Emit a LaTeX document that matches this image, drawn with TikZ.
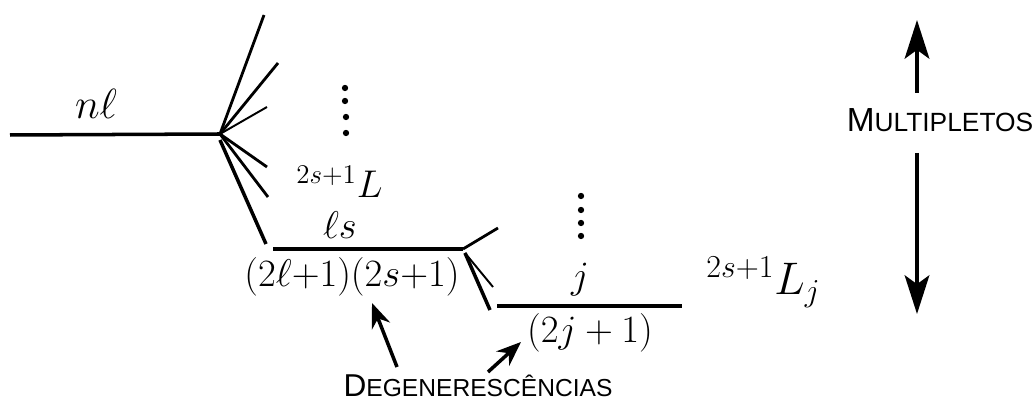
\RequirePackage{fix-cm}
\documentclass[tikz,border=0pt]{standalone}
\usepackage{fontspec}
\newfontfamily\handfont{Liberation Sans}
\usetikzlibrary{arrows.meta}
\newcommand\fsz[1]{\fontsize{#1}{#1}\selectfont}
\begin{document}
\begin{tikzpicture}[x=0.02cm,y=-0.02cm,
  lvl/.style={line width=2pt},
  split/.style={line width=1.6pt},
  thin split/.style={line width=1.1pt},
  lbl/.style={inner sep=0pt,font=\fsz{22}},
  captext/.style={inner sep=0pt,font=\handfont\fsz{14}},
  dotmark/.style={circle,fill=black,inner sep=0pt,minimum size=3.6pt},
  pointer/.style={line width=2pt,-{Stealth[length=14pt,width=11pt]}},
  bigarrow/.style={line width=2.2pt,-{Stealth[length=22pt,width=14pt,inset=5pt]}}]
\useasboundingbox (0,0) rectangle (1034,404);

% nl level
\coordinate (nlL) at (10,135);
\coordinate (nlR) at (220,134);
\draw[lvl] (nlL) -- (nlR);
\node[lbl,font=\fsz{24}] (nl) at (96,104) {$n\ell$};

% first fan
\coordinate (f1) at (264,15);
\coordinate (f2) at (278,63);
\coordinate (f3) at (267,107);
\coordinate (f4) at (267,167);
\coordinate (f5) at (268,197);
\coordinate (f6) at (266,244);
\coordinate (nlR2) at (220,140);
\draw[split] (nlR) -- (f1);
\draw[split] (nlR) -- (f2);
\draw[thin split] (nlR) -- (f3);
\draw[split] (nlR) -- (f4);
\draw[split] (nlR) -- (f5);
\draw[lvl] (nlR2) -- (f6);

\node[dotmark] (d1) at (345,88) {};
\node[dotmark] (d2) at (345,101) {};
\node[dotmark] (d3) at (346,117) {};
\node[dotmark] (d4) at (346,133) {};

\node[lbl,anchor=south west] (term1) at (296,198) {$^{2s{+}1}L$};

% ls level
\coordinate (lsL) at (273,249);
\coordinate (lsR) at (463,249);
\draw[lvl] (lsL) -- (lsR);
\node[lbl] (ls) at (340,225) {$\ell s$};
\node[lbl] (deg1) at (352,277) {$(2\ell{+}1)(2s{+}1)$};

% second fan
\coordinate (g1) at (498,228);
\coordinate (g2) at (493,287);
\coordinate (g3) at (490,310);
\coordinate (lsR2) at (465,253);
\draw[split] (lsR) -- (g1);
\draw[thin split] (lsR2) -- (g2);
\draw[lvl] (lsR2) -- (g3);

\node[dotmark] (e1) at (581,196) {};
\node[dotmark] (e2) at (581,210) {};
\node[dotmark] (e3) at (581,223) {};
\node[dotmark] (e4) at (581,236) {};

% j level
\coordinate (jL) at (497,306);
\coordinate (jR) at (682,306);
\draw[lvl] (jL) -- (jR);
\node[lbl] (j) at (580,280) {$j$};
\node[lbl] (deg2) at (590,333) {$(2j+1)$};

\node[lbl,font=\fsz{26},anchor=south west] (term2) at (706,308) {$^{2s{+}1}L_j$};

% multipletos
\node[captext,font=\handfont\fsz{15}] (mult) at (940,120) {{\fsz{19}M}ULTIPLETOS};
\coordinate (mupA) at (917,93);
\coordinate (mupB) at (917,20);
\coordinate (mdnA) at (917,153);
\coordinate (mdnB) at (917,314);
\draw[bigarrow] (mupA) -- (mupB);
\draw[bigarrow] (mdnA) -- (mdnB);

% degenerescencias
\node[captext] (deg) at (478,386) {{\fsz{18}D}EGENERESC\^ENCIAS};
\coordinate (p1a) at (397,367);
\coordinate (p1b) at (372,303);
\coordinate (p2a) at (488,372);
\coordinate (p2b) at (521,342);
\draw[pointer] (p1a) -- (p1b);
\draw[pointer] (p2a) -- (p2b);
\end{tikzpicture}
\end{document}
